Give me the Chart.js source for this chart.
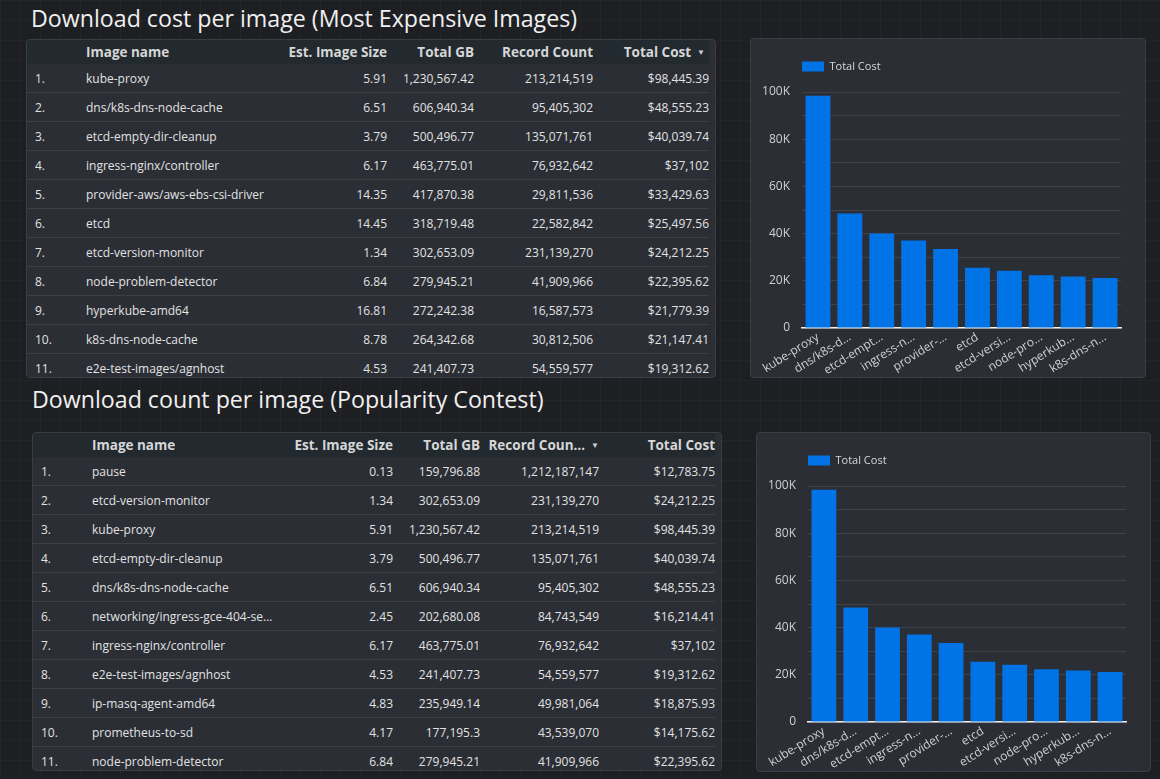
<!DOCTYPE html>
<html>
<head>
<meta charset="utf-8">
<script src="https://cdn.jsdelivr.net/npm/chart.js@4.4.1/dist/chart.umd.min.js"></script>
<style>
  html, body { margin:0; padding:0; }
  body {
    width:1160px; height:779px; overflow:hidden; position:relative;
    background-color:#1e1f23;
    background-image:
      linear-gradient(#24252a 1px, transparent 1px),
      linear-gradient(90deg, #24252a 1px, transparent 1px);
    background-size:20px 20px;
    font-family:"Open Sans", "Noto Sans", sans-serif;
    color:#dcdcdc;
  }
  .title { position:absolute; font-size:23.2px; color:#f0f0f0; white-space:nowrap; line-height:1; }
  .panel { position:absolute; background:#2b2e35; border:1px solid #3a3d44; border-radius:4px; overflow:hidden; box-sizing:border-box; }
  table { border-collapse:collapse; table-layout:fixed; width:682px; }
  th { background:#222a30; font-weight:bold; font-size:13.5px; color:#d6d6d6; height:24px; padding:0; white-space:nowrap; overflow:hidden; }
  td { font-size:12px; color:#e2e2e2; height:28px; padding:0; border-bottom:1px solid #3b3f46; white-space:nowrap; overflow:hidden; }
  .n { text-align:left; padding-left:8px; }
  .l { text-align:left; }
  .r { text-align:right; }
  th.last.sorted { padding-right:4px; }
  .arrow { font-size:8px; margin-left:6px; vertical-align:2px; color:#cfcfcf; }
  .chartbox { position:absolute; left:0; top:0; right:0; bottom:0; }
</style>
</head>
<body>
<div class="title" style="left:31px; top:7px;">Download cost per image (Most Expensive Images)</div>
<div class="title" style="left:32px; top:388px;">Download count per image (Popularity Contest)</div>

<div class="panel" id="t1" style="left:26px; top:39px; width:690px; height:339px;"></div>
<div class="panel" id="t2" style="left:32px; top:432px; width:690px; height:339px;"></div>

<div class="panel" style="left:750px; top:38px; width:396px; height:340px;"><div class="chartbox"><canvas id="c1"></canvas></div></div>
<div class="panel" style="left:756px; top:432px; width:395px; height:340px;"><div class="chartbox"><canvas id="c2"></canvas></div></div>

<script>
// ---- Table 1: Most expensive images ----
const t1Names = ["kube-proxy","dns/k8s-dns-node-cache","etcd-empty-dir-cleanup","ingress-nginx/controller","provider-aws/aws-ebs-csi-driver","etcd","etcd-version-monitor","node-problem-detector","hyperkube-amd64","k8s-dns-node-cache","e2e-test-images/agnhost"];
const t1Size = ["5.91","6.51","3.79","6.17","14.35","14.45","1.34","6.84","16.81","8.78","4.53"];
const t1GB = ["1,230,567.42","606,940.34","500,496.77","463,775.01","417,870.38","318,719.48","302,653.09","279,945.21","272,242.38","264,342.68","241,407.73"];
const t1Count = ["213,214,519","95,405,302","135,071,761","76,932,642","29,811,536","22,582,842","231,139,270","41,909,966","16,587,573","30,812,506","54,559,577"];
const t1Cost = ["$98,445.39","$48,555.23","$40,039.74","$37,102","$33,429.63","$25,497.56","$24,212.25","$22,395.62","$21,779.39","$21,147.41","$19,312.62"];

// ---- Table 2: Popularity contest ----
const t2Names = ["pause","etcd-version-monitor","kube-proxy","etcd-empty-dir-cleanup","dns/k8s-dns-node-cache","networking/ingress-gce-404-se\u2026","ingress-nginx/controller","e2e-test-images/agnhost","ip-masq-agent-amd64","prometheus-to-sd","node-problem-detector"];
const t2Size = ["0.13","1.34","5.91","3.79","6.51","2.45","6.17","4.53","4.83","4.17","6.84"];
const t2GB = ["159,796.88","302,653.09","1,230,567.42","500,496.77","606,940.34","202,680.08","463,775.01","241,407.73","235,949.14","177,195.3","279,945.21"];
const t2Count = ["1,212,187,147","231,139,270","213,214,519","135,071,761","95,405,302","84,743,549","76,932,642","54,559,577","49,981,064","43,539,070","41,909,966"];
const t2Cost = ["$12,783.75","$24,212.25","$98,445.39","$40,039.74","$48,555.23","$16,214.41","$37,102","$19,312.62","$18,875.93","$14,175.62","$22,395.62"];

// ---- Bar charts: Total Cost (top 10) ----
const chartCategories = ["kube-proxy","dns/k8s-dns-node-cache","etcd-empty-dir-cleanup","ingress-nginx/controller","provider-aws/aws-ebs-csi-driver","etcd","etcd-version-monitor","node-problem-detector","hyperkube-amd64","k8s-dns-node-cache"];
const chartTickLabels = ["kube-proxy","dns/k8s-d\u2026","etcd-empt\u2026","ingress-n\u2026","provider-\u2026","etcd","etcd-versi\u2026","node-pro\u2026","hyperkub\u2026","k8s-dns-n\u2026"];
const chartCosts = [98445.39,48555.23,40039.74,37102,33429.63,25497.56,24212.25,22395.62,21779.39,21147.41];
const yTickValues = [0,20000,40000,60000,80000,100000];
const yTickLabels = ["0","20K","40K","60K","80K","100K"];

function buildTable(id, names, size, gb, count, cost, sortCol) {
  const hdr = ["", "Image name", "Est. Image Size", "Total GB", sortCol === 4 ? "Record Coun\u2026" : "Record Count", "Total Cost"];
  const widths = [59, 191, 110, 87, 119, 116];
  let h = '<table><colgroup>' + widths.map(w => '<col style="width:' + w + 'px">').join('') + '</colgroup>';
  h += '<tr>';
  hdr.forEach((t, i) => {
    let cls = i === 0 ? 'n' : (i === 1 ? 'l' : 'r');
    if (i === 5) cls += ' last';
    let inner = t;
    if (i === sortCol) { inner += '<span class="arrow">\u25BC</span>'; cls += ' sorted'; }
    h += '<th class="' + cls + '">' + inner + '</th>';
  });
  h += '</tr>';
  for (let i = 0; i < names.length; i++) {
    h += '<tr><td class="n">' + (i + 1) + '.</td><td class="l">' + names[i] + '</td><td class="r">' + size[i] +
         '</td><td class="r">' + gb[i] + '</td><td class="r">' + count[i] + '</td><td class="r">' + cost[i] + '</td></tr>';
  }
  h += '</table>';
  document.getElementById(id).innerHTML = h;
}
buildTable('t1', t1Names, t1Size, t1GB, t1Count, t1Cost, 5);
buildTable('t2', t2Names, t2Size, t2GB, t2Count, t2Cost, 4);

const legendGap = {
  id: 'legendGap',
  beforeInit(chart) {
    const origFit = chart.legend.fit;
    chart.legend.fit = function () {
      origFit.bind(chart.legend)();
      this.height += 10;
    };
  }
};

function makeChart(id) {
  new Chart(document.getElementById(id), {
    type: 'bar',
    data: {
      labels: chartCategories,
      datasets: [{
        label: 'Total Cost',
        data: chartCosts,
        backgroundColor: '#0073e6',
        borderWidth: 0,
        barPercentage: 0.78,
        categoryPercentage: 1.0
      }]
    },
    options: {
      responsive: true,
      maintainAspectRatio: false,
      animation: false,
      devicePixelRatio: 1,
      layout: { padding: { top: 22, right: 24, left: 0, bottom: 0 } },
      plugins: {
        legend: {
          display: true,
          position: 'top',
          align: 'start',
          fullSize: false,
          labels: {
            boxWidth: 22, boxHeight: 10, padding: 0,
            color: '#d8d8d8',
            font: { family: '"Open Sans", sans-serif', size: 11 }
          }
        },
        tooltip: { enabled: false }
      },
      scales: {
        x: {
          afterFit(scale) { scale.height = 49; },
          grid: { display: false, drawTicks: false },
          border: { display: true, color: '#f2f2f2', width: 1.5 },
          ticks: {
            color: '#d0d0d0',
            font: { family: '"Open Sans", sans-serif', size: 12 },
            minRotation: 32, maxRotation: 32,
            padding: 2,
            autoSkip: false,
            callback: function (v, i) { return chartTickLabels[i]; }
          }
        },
        y: {
          min: 0, max: 100000,
          afterFit(scale) { scale.width = 51; },
          border: { display: false },
          grid: { color: '#3e4249', drawTicks: false, lineWidth: 1 },
          ticks: {
            stepSize: 10000,
            padding: 12,
            color: '#d0d0d0',
            font: { family: '"Open Sans", sans-serif', size: 12 },
            callback: function (v) {
              const k = yTickValues.indexOf(v);
              return k >= 0 ? yTickLabels[k] : '';
            }
          }
        }
      }
    },
    plugins: [legendGap]
  });
}
makeChart('c1');
makeChart('c2');
</script>
</body>
</html>
